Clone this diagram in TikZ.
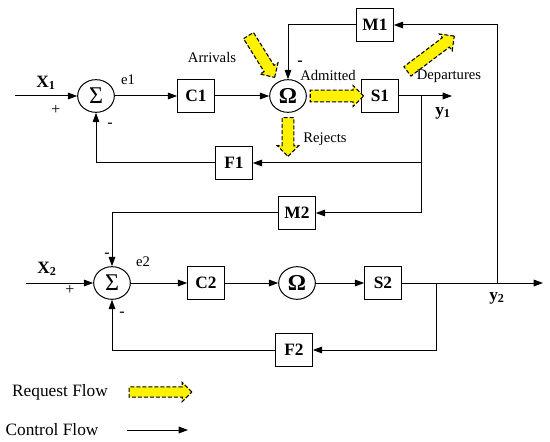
\documentclass[tikz,border=0pt]{standalone}
\usepackage{fontspec}
\setmainfont{Liberation Serif}
\usetikzlibrary{arrows.meta,shapes.arrows,shapes.geometric,calc}
\tikzset{every picture/.style={line width=0.75pt}}
\tikzset{
  blk/.style={draw, minimum width=27.5pt, minimum height=24.5pt, inner sep=0pt, font=\fontsize{13}{13}\selectfont\bfseries},
  junc/.style={draw, ellipse, minimum width=27.5pt, minimum height=24.5pt, inner sep=0pt, font=\fontsize{18}{18}\selectfont},
  omg/.style={junc, font=\fontsize{17}{17}\selectfont\bfseries},
  ctrl/.style={-{Triangle[length=7pt,width=5pt]}},
  reqflow/.style={single arrow, draw, fill=yellow, dash pattern=on 3pt off 1.5pt, line width=0.8pt,
    inner sep=4pt, single arrow head extend=3.5pt},
  lbl/.style={inner sep=0.75pt, font=\fontsize{11}{11}\selectfont},
  sgn/.style={inner sep=0.75pt, font=\fontsize{12}{12}\selectfont},
  io/.style={inner sep=0.75pt, font=\fontsize{13}{13}\selectfont\bfseries},
}

\begin{document}
\begin{tikzpicture}[x=0.75pt,y=0.75pt,yscale=-1,xscale=1]
\useasboundingbox (0,0) rectangle (550,442);

% first loop
\node[junc] (sum1) at (96,96) {Σ};
\node[blk] (c1) at (196,96) {C1};
\node[omg] (om1) at (288,96) {Ω};
\node[blk] (s1) at (380,96) {S1};
\node[blk] (m1) at (375,25) {M1};
\node[blk] (f1) at (234,163) {F1};
\coordinate (x1in) at (15,96);
\coordinate (y1out) at (452,96);
\coordinate (j1) at (421,96);

% second loop
\node[junc] (sum2) at (112,283) {Σ};
\node[blk] (c2) at (206,283) {C2};
\node[omg] (om2) at (297,283) {Ω};
\node[blk] (s2) at (383,283) {S2};
\node[blk] (m2) at (297,213) {M2};
\node[blk] (f2) at (294,350) {F2};
\coordinate (x2in) at (26,283);
\coordinate (y2out) at (543,283);
\coordinate (j2) at (436,283);
\coordinate (j3) at (497,283);

% control flow
\draw[ctrl] (x1in) -- (sum1);
\draw[ctrl] (sum1) -- (c1);
\draw[ctrl] (c1) -- (om1);
\draw[ctrl] (s1) -- (y1out);
\draw[ctrl] (j1) |- (f1);
\draw[ctrl] (f1) -| (sum1);
\draw[ctrl] (j1) |- (m2);
\draw[ctrl] (m1) -| (om1);
\draw[ctrl] (j3) |- (m1);

\draw[ctrl] (x2in) -- (sum2);
\draw[ctrl] (sum2) -- (c2);
\draw[ctrl] (c2) -- (om2);
\draw[ctrl] (om2) -- (s2);
\draw[ctrl] (s2) -- (y2out);
\draw[ctrl] (j2) |- (f2);
\draw[ctrl] (f2) -| (sum2);
\draw[ctrl] (m2) -| (sum2);

% request flow
\node[reqflow, minimum height=37pt, rotate=-58] (arrive) at (260,54) {};
\node[reqflow, minimum height=40pt] (admit) at ($(om1.east)!0.5!(s1.west)$) {};
\node[reqflow, minimum height=29pt, rotate=-90] (reject) at (288,134) {};
\node[reqflow, minimum height=44pt, rotate=37] (depart) at (428.5,55.5) {};

% labels
\node[io] (x1lbl) at (46,83) {X\textsubscript{1}};
\node[sgn] (plus1) at (56,110) {+};
\node[sgn] (minus1) at (110,125) {-};
\node[lbl] (e1lbl) at (128,80) {e1};
\node[lbl] (arrlbl) at (212,57) {Arrivals};
\node[sgn, font=\fontsize{12}{12}\selectfont\bfseries] (minus0) at (300,63) {-};
\node[lbl] (admlbl) at (328,75) {Admitted};
\node[lbl] (deplbl) at (449,76) {Departures};
\node[io] (y1lbl) at (443,113) {y\textsubscript{1}};
\node[lbl] (rejlbl) at (325,139) {Rejects};

\node[io] (x2lbl) at (47,269) {X\textsubscript{2}};
\node[sgn] (plus2) at (70,290) {+};
\node[sgn] (minus2) at (107,255) {-};
\node[lbl] (e2lbl) at (143,262) {e2};
\node[sgn] (minus3) at (122,314) {-};
\node[io] (y2lbl) at (497,298) {y\textsubscript{2}};

% legend
\node[inner sep=0.75pt, font=\fontsize{13}{13}\selectfont] (reqtxt) at (60,392) {Request Flow};
\node[reqflow, minimum height=47pt, inner sep=3.4pt, single arrow head extend=3.4pt] (reqleg) at (158,392) {};
\node[inner sep=0.75pt, font=\fontsize{13}{13}\selectfont] (ctrltxt) at (52,430) {Control Flow};
\coordinate (ctrla) at (127,430);
\coordinate (ctrlb) at (188,430);
\draw[ctrl] (ctrla) -- (ctrlb);

\end{tikzpicture}
\end{document}
